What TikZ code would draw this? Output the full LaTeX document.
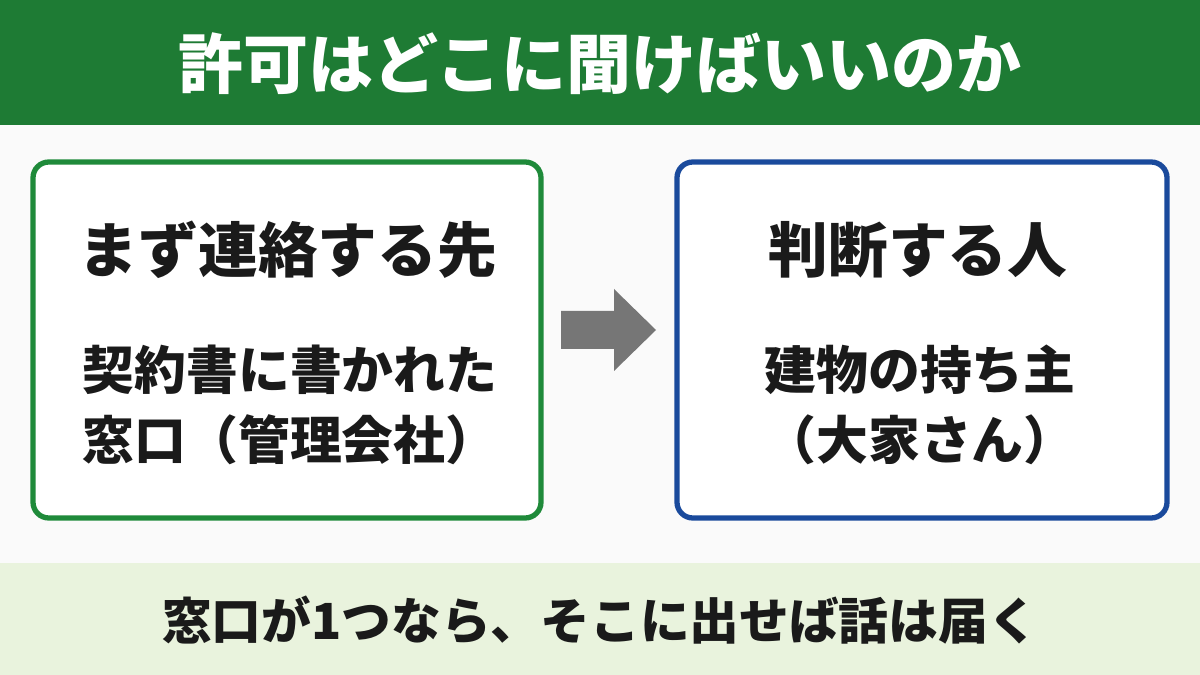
\documentclass[tikz,border=0pt]{standalone}
\usepackage{fontspec}
\newfontfamily\cjk{Noto Sans CJK JP}
\usepackage{tikz}
\usetikzlibrary{positioning, calc}
\definecolor{titlegreen}{HTML}{1E7B34}
\definecolor{boxgreen}{HTML}{1F8A3A}
\definecolor{boxblue}{HTML}{1A4A9C}
\definecolor{notegreen}{HTML}{E9F3DD}
\definecolor{arrowgray}{HTML}{767676}
\definecolor{inkblack}{HTML}{1A1A1A}
\tikzset{
  panel/.style={line width=3pt, rounded corners=9pt, fill=white},
  headtext/.style={font=\cjk\bfseries\fontsize{34}{40}\selectfont, text=inkblack},
  bodytext/.style={font=\cjk\bfseries\fontsize{29.5}{40}\selectfont, text=inkblack, align=center}
}

\begin{document}
\begin{tikzpicture}[x=0.02cm, y=-0.02cm]
        \fill[white!98!black] (0,0) rectangle (1200,675);
        \useasboundingbox (0,0) rectangle (1200,675);
        % title band
        \fill[titlegreen] (0,0) rectangle (1200,125);
        \node[font=\cjk\bfseries\fontsize{37}{44}\selectfont, text=white] (title) at (600,64) {許可はどこに聞けばいいのか};
        % two panels
        \draw[panel, draw=boxgreen] (33,162) rectangle (541,518);
        \draw[panel, draw=boxblue] (677,162) rectangle (1167,518);
        \node[headtext] (firsthead) at (288,250) {まず連絡する先};
        \node[bodytext] (firstbody) at (290,405) {契約書に書かれた\\窓口（管理会社）};
        \node[headtext] (judgehead) at (918,250) {判断する人};
        \node[bodytext] (judgebody) at (920,405) {建物の持ち主\\（大家さん）};
        % block arrow
        \fill[arrowgray] (561,311) -- (614,311) -- (614,289) -- (656,330)
              -- (614,371) -- (614,349) -- (561,349) -- cycle;
        % bottom note
        \fill[notegreen] (0,563) rectangle (1200,675);
        \node[font=\cjk\bfseries\fontsize{28.3}{34}\selectfont, text=inkblack] (note) at (600,620) {窓口が1つなら、そこに出せば話は届く};
      \end{tikzpicture}
\end{document}
